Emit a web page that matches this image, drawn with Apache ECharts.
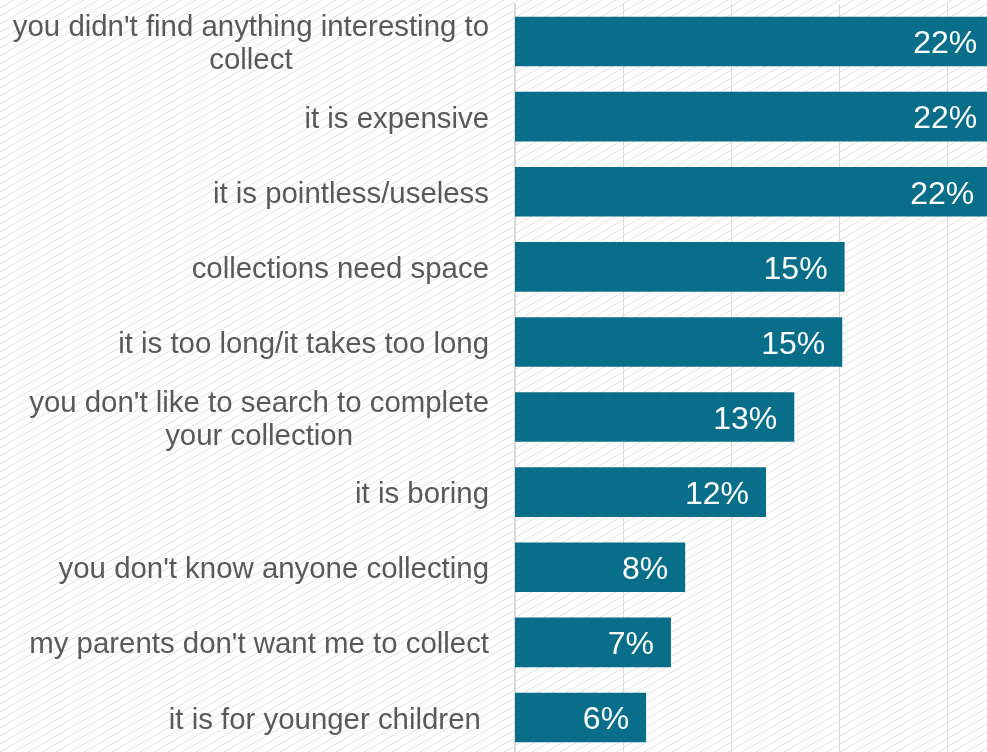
<!DOCTYPE html>
<html>
<head>
<meta charset="utf-8">
<script src="https://cdn.jsdelivr.net/npm/echarts@6/dist/echarts.min.js"></script>
<style>
  html, body { margin: 0; padding: 0; background: #ffffff; }
  #chart { width: 987px; height: 752px; }
</style>
</head>
<body>
<div id="chart"></div>
<script>
// Reasons for not collecting (share of respondents, %)
const categories = [
  "you didn't find anything interesting to\ncollect",
  "it is expensive",
  "it is pointless/useless",
  "collections need space",
  "it is too long/it takes too long",
  "you don't like to search to complete\nyour collection",
  "it is boring",
  "you don't know anyone collecting",
  "my parents don't want me to collect",
  "it is for younger children "
];
const shares = [22.19, 22.19, 22.05, 15.26, 15.15, 12.93, 11.62, 7.88, 7.22, 6.07];
const axisMax = 25;
const axisStep = 5;

// Light diagonal hatch used as the page background
function hatchPattern() {
  const w = 14, h = 8;
  const c = document.createElement('canvas');
  c.width = w; c.height = h;
  const ctx = c.getContext('2d');
  ctx.fillStyle = '#ffffff';
  ctx.fillRect(0, 0, w, h);
  ctx.strokeStyle = '#e2e2e2';
  ctx.lineWidth = 1;
  for (let k = -1; k <= 1; k++) {
    ctx.beginPath();
    ctx.moveTo(0, h + k * h);
    ctx.lineTo(w, k * h);
    ctx.stroke();
  }
  return c;
}

const chart = echarts.init(document.getElementById('chart'), null, { renderer: 'canvas' });

chart.setOption({
  backgroundColor: { image: hatchPattern(), repeat: 'repeat' },
  animation: false,
  textStyle: { fontFamily: 'Liberation Sans, Arial, sans-serif' },
  // the plot runs past the right edge of the page, so the longest bars are cut off
  grid: { left: 515, top: 4, width: 540, height: 751, containLabel: false, outerBoundsMode: 'none' },
  xAxis: {
    type: 'value',
    min: 0,
    max: axisMax,
    interval: axisStep,
    axisLine: { show: false },
    axisTick: { show: false },
    axisLabel: { show: false },
    splitLine: { show: true, lineStyle: { color: '#d9d9d9', width: 1 } }
  },
  yAxis: {
    type: 'category',
    inverse: true,
    data: categories,
    axisLine: { show: true, lineStyle: { color: '#d9d9d9', width: 2 } },
    axisTick: { show: false },
    axisLabel: {
      margin: 26,
      color: '#595959',
      fontSize: 29.4,
      lineHeight: 33,
      align: 'right',
      padding: [6, 0, 0, 0],
      formatter: function (v) {
        return v.split('\n').map(function (s) { return '{c|' + s + '}'; }).join('\n');
      },
      rich: {
        c: { align: 'center', color: '#595959', fontSize: 29.4, lineHeight: 33,
             fontFamily: 'Liberation Sans, Arial, sans-serif' }
      }
    }
  },
  series: [{
    type: 'bar',
    data: shares,
    barCategoryGap: '34%',
    itemStyle: { color: '#086e8a' },
    label: {
      show: true,
      position: 'insideRight',
      distance: 17,
      offset: [0, 3],
      color: '#ffffff',
      fontSize: 32,
      fontFamily: 'Liberation Sans, Arial, sans-serif',
      formatter: function (p) { return Math.round(p.value) + '%'; }
    }
  }]
});
</script>
</body>
</html>
